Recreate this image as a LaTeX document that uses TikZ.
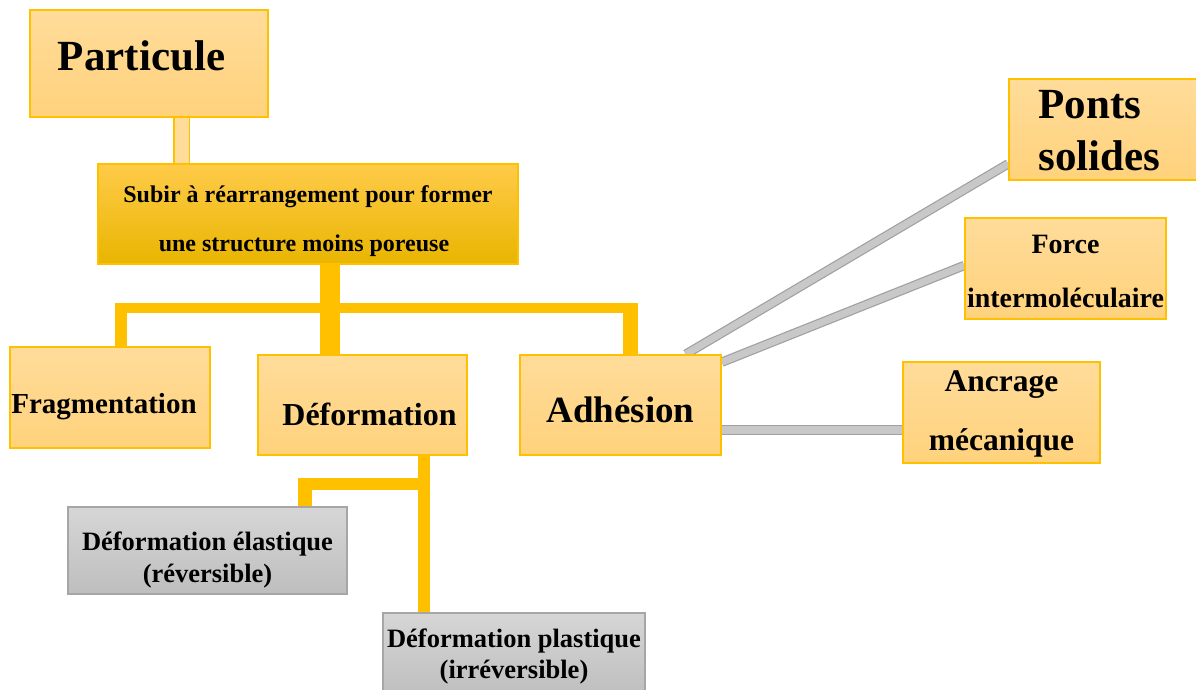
\documentclass[tikz,border=0pt]{standalone}
\usepackage{fontspec}
\setmainfont{Liberation Serif}
\usetikzlibrary{calc,backgrounds}

\definecolor{gold}{HTML}{FFC000}
\definecolor{paleTop}{HTML}{FFDC9A}
\definecolor{paleBot}{HTML}{FFD27C}
\definecolor{goldTop}{HTML}{FFCB4A}
\definecolor{goldBot}{HTML}{E9B500}
\definecolor{greyTop}{HTML}{D6D6D6}
\definecolor{greyBot}{HTML}{BEBEBE}
\definecolor{greyEdge}{HTML}{A6A6A6}
\definecolor{linkEdge}{HTML}{A0A0A0}
\definecolor{linkFill}{HTML}{C8C8C8}

% font size and line pitch for a box label
\newcommand{\fs}[2]{\fontsize{#1}{#2}\selectfont\bfseries}
% move a label up or down without changing the space it takes
\newcommand{\nudge}[2]{\raisebox{#1}[\height][\depth]{#2}}
% a multi-line label whose first baseline sits #1 above the box centre
\newcommand{\block}[3]{\raisebox{#1}[0pt][0pt]{\begin{tabular}[t]{@{}#2@{}}#3\end{tabular}}}

\tikzset{
  obox/.style={draw=gold, line width=1.6pt, top color=paleTop, bottom color=paleBot,
               inner sep=0pt, align=center, text=black},
  subirbox/.style={draw=gold, line width=1.6pt, top color=goldTop, middle color=gold,
               bottom color=goldBot, inner sep=0pt, align=center, text=black},
  gbox/.style={draw=greyEdge, line width=1.6pt, top color=greyTop, bottom color=greyBot,
               inner sep=0pt, align=center, text=black},
  bar/.style={draw=gold, line cap=butt},
  palebar/.style={draw=gold, line width=1.5pt, double=paleTop, double distance=14pt},
  greylink/.style={draw=linkEdge, line width=1.2pt, double=linkFill, double distance=7pt}
}

\begin{document}
\begin{tikzpicture}[x=1pt, y=-1pt]
\useasboundingbox (0,0) rectangle (1196,690);

% boxes
\node[obox, minimum width=238, minimum height=107, font=\fs{43}{48}] (part) at (149,63.5)
  {\nudge{8pt}{Particule}\hspace*{15pt}};
\node[subirbox, minimum width=420, minimum height=100, font=\fs{24}{49}] (subir) at (308,214)
  {\block{12pt}{c}{Subir à réarrangement pour former\\une structure moins poreuse\hspace*{8pt}}};
\node[obox, minimum width=200, minimum height=101, font=\fs{29}{34}] (frag) at (110,397.5)
  {\nudge{-9pt}{Fragmentation}\hspace*{12pt}};
\node[obox, minimum width=209, minimum height=100, font=\fs{32}{36}] (def) at (362.5,405)
  {\hspace*{14pt}\nudge{-9pt}{Déformation}};
\node[obox, minimum width=201, minimum height=100, font=\fs{37}{42}] (adh) at (620.5,405)
  {\nudge{-5pt}{Adhésion}};
\node[obox, minimum width=191, minimum height=101, font=\fs{43}{51}] (ponts) at (1104.5,129.5)
  {\block{10.5pt}{l}{Ponts\\solides}\hspace*{10pt}};
\node[obox, minimum width=201, minimum height=101, font=\fs{28}{54}] (force) at (1065.5,268.5)
  {\block{15.5pt}{c}{Force\\intermoléculaire}};
\node[obox, minimum width=197, minimum height=101, font=\fs{31.5}{59}] (anc) at (1001.5,412.5)
  {\block{21.5pt}{c}{Ancrage\\mécanique}};
\node[gbox, minimum width=279, minimum height=87, font=\fs{26.5}{32}] (elast) at (207.5,550.5)
  {\block{0.5pt}{c}{Déformation élastique\\(réversible)}};
\node[gbox, minimum width=262, minimum height=84, font=\fs{26.5}{31}] (plast) at (514,655)
  {\block{8pt}{c}{Déformation plastique\\(irréversible)}};

% tap points of the connector tree
\coordinate (pdrop) at (181.5,140);
\coordinate (trunk) at (330,308);
\coordinate (fragtap) at (121,308);
\coordinate (adhtap) at (630,308);
\coordinate (dtap) at (424,484);
\coordinate (etap) at (305,484);

\begin{scope}[on background layer]
  % Particule -> Subir
  \draw[palebar] (pdrop |- part.south) -- (pdrop |- subir.north);
  % Subir -> three branches
  \draw[bar, line width=20pt] (trunk |- subir.south) -- (trunk |- def.north);
  \draw[bar, line width=10pt] (fragtap) -- (adhtap);
  \draw[bar, line width=12pt] ($(fragtap)+(0,-5)$) -- (fragtap |- frag.north);
  \draw[bar, line width=15pt] ($(adhtap)+(0,-5)$) -- (adhtap |- adh.north);
  % Deformation -> elastic / plastic
  \draw[bar, line width=12pt] (dtap |- def.south) -- (dtap |- plast.north);
  \draw[bar, line width=12pt] ($(dtap)+(6,0)$) -- ($(etap)+(-7,0)$);
  \draw[bar, line width=14pt] ($(etap)+(0,-6)$) -- (etap |- elast.north);
  % Adhesion -> bonding mechanisms
  \draw[greylink] ($(adh.north east)+(-36,0)$) -- ($(ponts.south west)+(0,-17)$);
  \draw[greylink] ($(adh.north east)+(0,8)$) -- ($(force.west)+(0,-3)$);
  \draw[greylink, double distance=8pt] ($(adh.east)+(0,25)$) coordinate (a3) -- (a3 -| anc.west);
\end{scope}
\end{tikzpicture}
\end{document}
